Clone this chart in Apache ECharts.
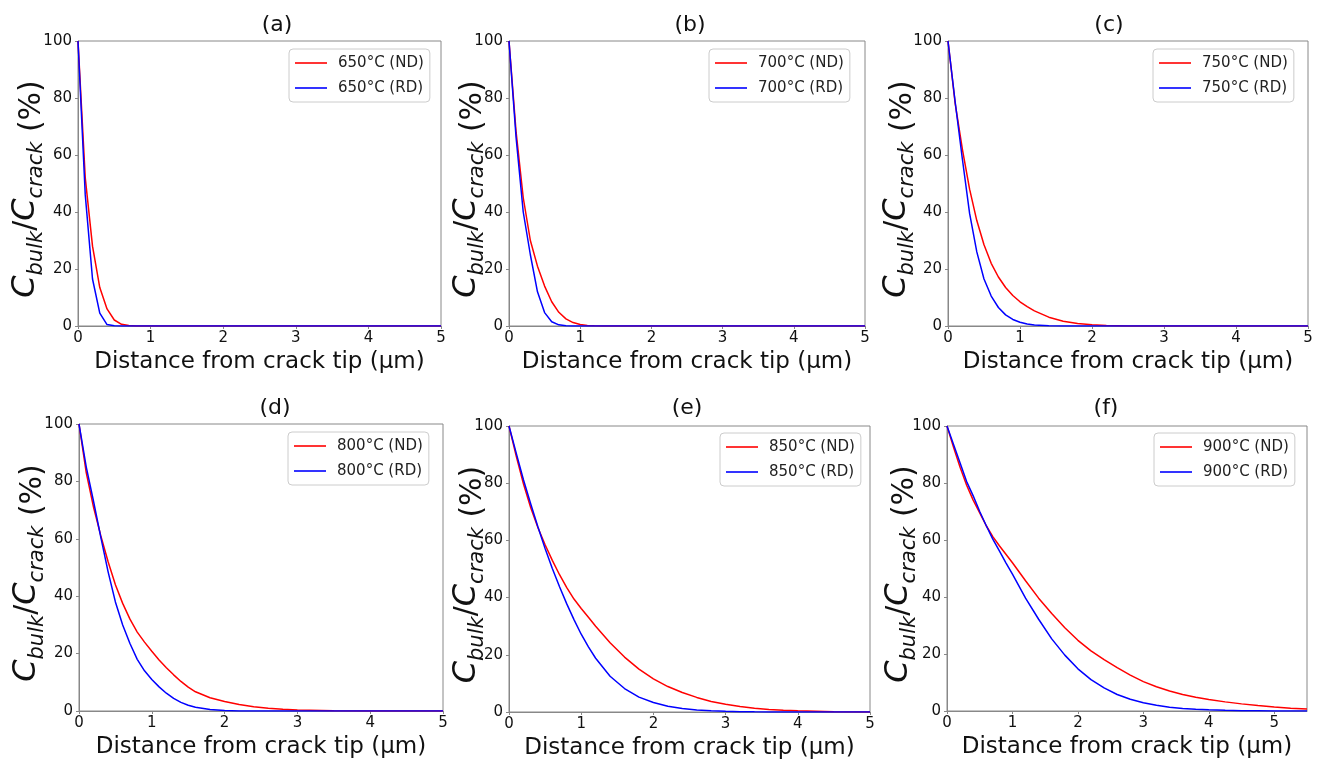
<!DOCTYPE html>
<html>
<head>
<meta charset="utf-8">
<script src="https://cdn.jsdelivr.net/npm/echarts@6/dist/echarts.min.js"></script>
<style>
html, body { margin: 0; padding: 0; background: #fff; }
#main { width: 1321px; height: 762px; }
</style>
</head>
<body>
<div id="main"></div>
<script>
// (a) 650°C
var xA  = [0, 0.1, 0.2, 0.3, 0.4, 0.5, 0.6, 0.7, 0.8, 0.9, 5];
var ndA = [100, 52, 28, 13.5, 6, 2.1, 0.6, 0.15, 0.03, 0, 0];
var rdA = [100, 46, 16.5, 4.5, 0.5, 0.05, 0, 0, 0, 0, 0];

// (b) 700°C
var xB  = [0, 0.1, 0.2, 0.3, 0.4, 0.5, 0.6, 0.7, 0.8, 0.9, 1.0, 1.1, 1.2, 1.3, 1.5, 5];
var ndB = [100, 68, 45, 30, 21, 14, 8.5, 4.8, 2.5, 1.2, 0.5, 0.2, 0.08, 0.03, 0, 0];
var rdB = [100, 66, 40, 25, 12, 4.7, 1.5, 0.4, 0.1, 0.02, 0, 0, 0, 0, 0, 0];

// (c) 750°C
var xC  = [0, 0.1, 0.2, 0.3, 0.4, 0.5, 0.6, 0.7, 0.8, 0.9, 1.0, 1.1, 1.2, 1.4, 1.6, 1.8, 2.0, 2.2, 2.5, 3, 5];
var ndC = [100, 78, 62, 48, 37, 28.5, 22, 17.2, 13.5, 10.7, 8.5, 6.8, 5.3, 3.1, 1.7, 0.85, 0.4, 0.17, 0.04, 0, 0];
var rdC = [100, 78.5, 58.5, 39.5, 26, 16.5, 10.5, 6.5, 3.9, 2.3, 1.3, 0.7, 0.35, 0.08, 0.02, 0, 0, 0, 0, 0, 0];

// (d) 800°C
var xD  = [0, 0.1, 0.2, 0.3, 0.4, 0.5, 0.6, 0.7, 0.8, 0.9, 1.0, 1.1, 1.2, 1.3, 1.4, 1.5, 1.6,
           1.8, 2.0, 2.2, 2.4, 2.6, 2.8, 3.0, 3.5, 4, 5];
var ndD = [100, 83, 71, 61, 52, 44, 37.5, 32, 27.5, 24, 20.8, 17.8, 15.1, 12.6, 10.3, 8.3, 6.7,
           4.6, 3.3, 2.3, 1.5, 1.0, 0.6, 0.35, 0.1, 0.03, 0];
var rdD = [100, 85, 73, 60.5, 48.5, 38, 30, 23.5, 18, 14, 11, 8.4, 6.2, 4.4, 3, 2, 1.3,
           0.5, 0.15, 0.04, 0.01, 0, 0, 0, 0, 0, 0];

// (e) 850°C
var xE  = [0, 0.1, 0.2, 0.3, 0.4, 0.5, 0.6, 0.7, 0.8, 0.9, 1.0, 1.1, 1.2,
           1.4, 1.6, 1.8, 2.0, 2.2, 2.4, 2.6, 2.8, 3.0, 3.2, 3.4, 3.6, 3.8, 4.0, 4.5, 5];
var ndE = [100, 89.5, 79.8, 71.5, 64.5, 58.5, 53, 48, 43.5, 39.5, 36.2, 33.1, 30,
           24.2, 19.2, 15, 11.6, 8.9, 6.8, 5.1, 3.7, 2.7, 1.9, 1.3, 0.9, 0.6, 0.4, 0.12, 0.03];
var rdE = [100, 90.5, 81.2, 72.8, 64.8, 57.2, 50.2, 43.8, 37.8, 32.3, 27.2, 22.8, 18.8,
           12.5, 8.2, 5.2, 3.3, 2.0, 1.2, 0.7, 0.4, 0.22, 0.12, 0.06, 0.03, 0.015, 0.01, 0, 0];

// (f) 900°C
var xF  = [0, 0.1, 0.2, 0.3, 0.4, 0.5, 0.6, 0.7, 0.8, 0.9, 1.0,
           1.2, 1.4, 1.6, 1.8, 2.0, 2.2, 2.4, 2.6, 2.8, 3.0, 3.2, 3.4, 3.6, 3.8, 4.0,
           4.25, 4.5, 4.75, 5.0, 5.25, 5.5];
var ndF = [100, 92.5, 85.5, 79.2, 74, 69.5, 65, 61.2, 58, 55, 52,
           45.7, 39.6, 34.2, 29.2, 24.8, 21.1, 18, 15.2, 12.6, 10.3, 8.5, 7, 5.8, 4.8, 4.0,
           3.2, 2.5, 1.9, 1.4, 1.0, 0.7];
var rdF = [100, 93.5, 87, 80.5, 75.5, 70, 65, 60.3, 56.2, 52, 48,
           39.6, 32.2, 25.3, 19.6, 14.8, 11, 8.1, 5.8, 4.1, 2.9, 2.0, 1.35, 0.9, 0.6, 0.4,
           0.25, 0.13, 0.07, 0.03, 0.01, 0];

var xTicks = [0, 1, 2, 3, 4, 5];

// layout of each sub plot (pixels)
var panels = [
    {tag: '(a)', temp: '650°C', x: xA, nd: ndA, rd: rdA, xMax: 5,
     grid: [78, 41, 363, 285], title: [277, 14], legend: [289, 49], nameGap: 31},
    {tag: '(b)', temp: '700°C', x: xB, nd: ndB, rd: rdB, xMax: 5,
     grid: [509, 41, 356, 285], title: [690, 14], legend: [709, 49], nameGap: 21},
    {tag: '(c)', temp: '750°C', x: xC, nd: ndC, rd: rdC, xMax: 5,
     grid: [948, 41, 360, 285], title: [1109, 14], legend: [1153, 49], nameGap: 30},
    {tag: '(d)', temp: '800°C', x: xD, nd: ndD, rd: rdD, xMax: 5,
     grid: [79, 424, 364, 287], title: [275, 397], legend: [288, 432], nameGap: 31},
    {tag: '(e)', temp: '850°C', x: xE, nd: ndE, rd: rdE, xMax: 5,
     grid: [509, 426, 361, 286], title: [687, 397], legend: [720, 433], nameGap: 21},
    {tag: '(f)', temp: '900°C', x: xF, nd: ndF, rd: rdF, xMax: 5.5,
     grid: [947, 426, 360, 285], title: [1106, 397], legend: [1154, 433], nameGap: 27}
];

var spine = '#888';
var ink = '#111';

var option = {
    animation: false,
    backgroundColor: '#fff',
    textStyle: {fontFamily: 'DejaVu Sans'},
    title: [], legend: [], grid: [], xAxis: [], yAxis: [], series: []
};

panels.forEach(function (p, i) {
    option.title.push({
        text: p.tag, left: p.title[0], top: p.title[1], textAlign: 'center', padding: 0,
        textStyle: {fontSize: 22, fontWeight: 'normal', color: ink, fontFamily: 'DejaVu Sans'}
    });
    option.grid.push({
        left: p.grid[0], top: p.grid[1], width: p.grid[2], height: p.grid[3],
        show: true, borderColor: spine, borderWidth: 1, backgroundColor: 'transparent'
    });
    option.xAxis.push({
        type: 'value', gridIndex: i, min: 0, max: p.xMax, interval: 1,
        axisLine: {show: true, onZero: false, lineStyle: {color: spine, width: 1}},
        axisTick: {show: true, length: 3, lineStyle: {color: spine}, customValues: xTicks},
        axisLabel: {color: ink, fontSize: 15, margin: 5, customValues: xTicks},
        splitLine: {show: false},
        name: 'Distance from crack tip (μm)', nameLocation: 'middle', nameGap: 25,
        nameTextStyle: {fontSize: 23, color: ink}
    });
    option.yAxis.push({
        type: 'value', gridIndex: i, min: 0, max: 100, interval: 20,
        axisLine: {show: true, onZero: false, lineStyle: {color: spine, width: 1}},
        axisTick: {show: true, length: 3, lineStyle: {color: spine}},
        axisLabel: {color: ink, fontSize: 15, margin: 6},
        splitLine: {show: false},
        name: '{c|C}{s|bulk}{sl|/}{c|C}{s|crack}{p| (%)}',
        nameLocation: 'middle', nameRotate: 90, nameGap: p.nameGap,
        nameMoveOverlap: false,
        nameTextStyle: {
            color: ink,
            rich: {
                c: {fontSize: 32, fontStyle: 'italic', lineHeight: 42, color: ink},
                s: {fontSize: 21, fontStyle: 'italic', lineHeight: 22, verticalAlign: 'bottom', color: ink},
                sl: {fontSize: 30, lineHeight: 42, color: ink},
                p: {fontSize: 30, lineHeight: 36, verticalAlign: 'bottom', color: ink, padding: [0, 11, 0, 0]}
            }
        }
    });
    option.legend.push({
        data: [p.temp + ' (ND)', p.temp + ' (RD)'],
        orient: 'vertical', left: p.legend[0], top: p.legend[1],
        icon: 'rect', itemWidth: 32, itemHeight: 1.6,
        padding: [5, 6], itemGap: 7,
        borderColor: '#ccc', borderWidth: 1, borderRadius: 4, backgroundColor: '#fff',
        selectedMode: false,
        textStyle: {fontSize: 15, color: '#222', lineHeight: 18, padding: [0, 0, 0, 6]}
    });
    option.series.push({
        type: 'line', name: p.temp + ' (ND)', xAxisIndex: i, yAxisIndex: i,
        data: p.x.map(function (v, k) { return [v, p.nd[k]]; }),
        symbol: 'none', lineStyle: {color: '#ff0000', width: 1.5}, itemStyle: {color: '#ff0000'}
    });
    option.series.push({
        type: 'line', name: p.temp + ' (RD)', xAxisIndex: i, yAxisIndex: i,
        data: p.x.map(function (v, k) { return [v, p.rd[k]]; }),
        symbol: 'none', lineStyle: {color: '#0000ff', width: 1.5}, itemStyle: {color: '#0000ff'}
    });
});

var myChart = echarts.init(document.getElementById('main'));
myChart.setOption(option);
</script>
</body>
</html>
